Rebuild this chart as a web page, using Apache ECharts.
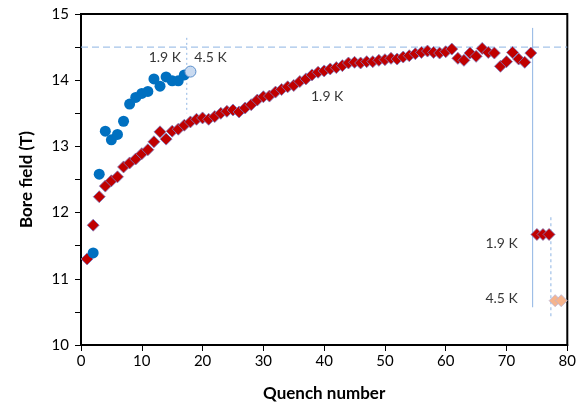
<!DOCTYPE html>
<html>
  <head>
    <meta charset="utf-8">
    <title>Bore field vs quench number</title>
    <style>
      html, body { margin: 0; padding: 0; background: #fff; }
      #chart { width: 579px; height: 411px; }
    </style>
  </head>
  <body>
    <div id="chart"></div>
    <script src="https://cdn.jsdelivr.net/npm/echarts@6/dist/echarts.min.js"></script>
    <script>
      // Magnet A (red diamonds), 1.9 K training, quench 1..74
      var redQuench = [];
      for (var q = 1; q <= 74; q++) redQuench.push(q);
      var redField = [
        11.30, 11.81, 12.24, 12.40, 12.48, 12.54, 12.69, 12.75, 12.81, 12.89,
        12.95, 13.07, 13.22, 13.11, 13.23, 13.26, 13.32, 13.37, 13.41, 13.43,
        13.41, 13.45, 13.50, 13.53, 13.55, 13.52, 13.58, 13.63, 13.70, 13.75,
        13.76, 13.82, 13.86, 13.90, 13.92, 13.98, 14.02, 14.08, 14.12, 14.14,
        14.17, 14.19, 14.22, 14.26, 14.27, 14.26, 14.28, 14.28, 14.30, 14.31,
        14.33, 14.32, 14.35, 14.37, 14.40, 14.42, 14.44, 14.42, 14.41, 14.43,
        14.47, 14.33, 14.30, 14.41, 14.36, 14.48, 14.42, 14.41, 14.21, 14.28,
        14.42, 14.32, 14.27, 14.41
      ];
      // after thermal cycle, 1.9 K
      var redLateQuench = [75, 76, 77];
      var redLateField = [11.67, 11.67, 11.67];
      // 4.5 K
      var red45Quench = [78, 79];
      var red45Field = [10.67, 10.67];

      // Magnet B (blue dots), 1.9 K, quench 2..17
      var blueQuench = [2, 3, 4, 5, 6, 7, 8, 9, 10, 11, 12, 13, 14, 15, 16, 17];
      var blueField = [11.39, 12.58, 13.23, 13.10, 13.18, 13.38, 13.64, 13.74,
                       13.80, 13.83, 14.02, 13.91, 14.05, 13.99, 13.99, 14.08];
      // 4.5 K
      var blue45Quench = [18];
      var blue45Field = [14.13];

      // guide lines: [x1, y1, x2, y2]
      var guideTarget = [0, 14.5, 80, 14.5];
      var guideSwitchB = [17.4, 14.64, 17.4, 13.5];
      var guideCycleA = [74.3, 14.79, 74.3, 10.57];
      var guideSwitchA = [77.3, 11.93, 77.3, 10.41];

      // annotations (text, quench, field)
      var noteText = ['1.9 K', '4.5 K', '1.9 K', '1.9 K', '4.5 K'];
      var noteX = [13.8, 21.3, 40.5, 69.2, 69.2];
      var noteY = [14.35, 14.35, 13.76, 11.54, 10.71];

      var xTicks = [0, 10, 20, 30, 40, 50, 60, 70, 80];
      var yTicks = [10, 11, 12, 13, 14, 15];

      function pairs(xs, ys) {
        return xs.map(function (x, i) { return [x, ys[i]]; });
      }

      var lineBlue = '#8EB4E3';
      function guide(g, dash) {
        return {
          type: 'line',
          silent: true,
          symbol: 'none',
          data: [[g[0], g[1]], [g[2], g[3]]],
          lineStyle: { color: lineBlue, width: 1, type: dash },
          z: 1
        };
      }

      var chart = echarts.init(document.getElementById('chart'));

      chart.setOption({
        animation: false,
        textStyle: { fontFamily: 'Lato, "Open Sans", sans-serif' },
        grid: {
          left: 81, right: 10, top: 14, bottom: 66,
          show: true, borderColor: '#000', borderWidth: 2
        },
        xAxis: {
          type: 'value',
          min: xTicks[0], max: xTicks[xTicks.length - 1], interval: 10,
          name: 'Quench number',
          nameLocation: 'middle', nameGap: 40,
          nameTextStyle: { fontSize: 17, fontWeight: 'bold', color: '#000' },
          axisLine: { lineStyle: { color: '#000', width: 2 } },
          axisTick: { show: true, length: 6, lineStyle: { color: '#000' } },
          axisLabel: { fontSize: 15, color: '#000', margin: 9 },
          splitLine: { show: false }
        },
        yAxis: {
          type: 'value',
          min: yTicks[0], max: yTicks[yTicks.length - 1], interval: 1,
          name: 'Bore field (T)',
          nameLocation: 'middle', nameGap: 46, nameRotate: 90,
          nameTextStyle: { fontSize: 17, fontWeight: 'bold', color: '#000' },
          axisLine: { show: true, lineStyle: { color: '#000', width: 2 } },
          axisTick: { show: true, length: 6, lineStyle: { color: '#000' } },
          minorTick: { show: true, splitNumber: 2, length: 6, lineStyle: { color: '#000' } },
          axisLabel: { fontSize: 15, color: '#000', margin: 12 },
          splitLine: { show: false }
        },
        series: [
          guide(guideTarget, [7, 4]),
          guide(guideSwitchB, [2, 3]),
          guide(guideCycleA, 'solid'),
          guide(guideSwitchA, [3, 3]),
          {
            name: 'A 1.9 K',
            type: 'scatter',
            symbol: 'diamond',
            symbolSize: 12,
            itemStyle: { color: '#C00000', borderColor: '#7B7FC4', borderWidth: 0.8, opacity: 1 },
            data: pairs(redQuench, redField).concat(pairs(redLateQuench, redLateField))
          },
          {
            name: 'A 4.5 K',
            type: 'scatter',
            symbol: 'diamond',
            symbolSize: 12,
            itemStyle: { color: '#F6B48C', borderColor: '#B9B3D6', borderWidth: 0.8, opacity: 1 },
            data: pairs(red45Quench, red45Field)
          },
          {
            name: 'B 1.9 K',
            type: 'scatter',
            symbol: 'circle',
            symbolSize: 11,
            itemStyle: { color: '#0070C0', opacity: 1 },
            data: pairs(blueQuench, blueField)
          },
          {
            name: 'B 4.5 K',
            type: 'scatter',
            symbol: 'circle',
            symbolSize: 11,
            itemStyle: { color: '#C9DAF0', borderColor: '#5B8FCB', borderWidth: 1, opacity: 1 },
            data: pairs(blue45Quench, blue45Field)
          },
          {
            name: 'notes',
            type: 'scatter',
            symbolSize: 0,
            silent: true,
            label: {
              show: true, position: 'inside',
              formatter: function (p) { return noteText[p.dataIndex]; },
              fontSize: 14, color: '#000'
            },
            data: pairs(noteX, noteY)
          }
        ]
      });
    </script>
  </body>
</html>
